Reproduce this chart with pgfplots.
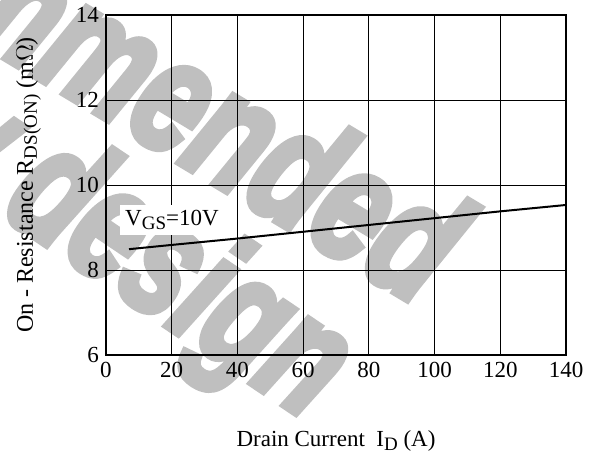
\documentclass[border=0pt]{standalone}
\usepackage{fontspec}
\setmainfont{Liberation Serif}
\newfontfamily\wmfont[FakeBold=5]{Liberation Sans}
\usepackage{pgfplots}
\pgfplotsset{compat=1.18}
\begin{document}
\begin{tikzpicture}
% watermark (behind the chart)
\node[rotate=-31, anchor=base east, text=black!25, inner sep=0pt,
      font=\wmfont\bfseries\itshape\fontsize{80}{80}\selectfont]
      at (157pt,24pt) {\scalebox{0.74}[1]{Not recommended}};
\node[rotate=-34, anchor=base east, text=black!25, inner sep=0pt,
      font=\wmfont\bfseries\itshape\fontsize{80}{80}\selectfont]
      at (101pt,-33pt) {\scalebox{0.72}[1]{for new design}};
\begin{axis}[
  at={(0,0)}, anchor=south west,
  scale only axis, width=230pt, height=170pt,
  xmin=0, xmax=140, ymin=6, ymax=14,
  xtick={0,20,...,140}, ytick={6,8,...,14},
  grid=major,
  major grid style={black, line width=0.5pt},
  axis line style={black, line width=1pt},
  tick style={draw=none},
  /pgf/number format/assume math mode=true,
  tick label style={font=\fontsize{11.5}{13}\selectfont},
  label style={font=\fontsize{11.5}{13}\selectfont},
  xlabel={Drain Current\ \ I{\fontsize{9.5}{10}\selectfont\raisebox{-0.45ex}{D}} (A)},
  ylabel={On - Resistance R{\fontsize{9.5}{10}\selectfont\raisebox{-0.45ex}{DS(ON)}} (m$\Omega$)},
  x label style={at={(axis description cs:0.5,-0.27)}, anchor=base},
  y label style={at={(axis description cs:-0.159,0.5)}, anchor=base, font=\fontsize{12}{13}\selectfont},
]
\addplot[black, line width=1pt] coordinates {
  (7,8.49) (20,8.59) (40,8.74) (60,8.90) (80,9.06) (100,9.22) (120,9.38) (140,9.53)
};
\node[fill=white, anchor=west, inner sep=2.5pt, font=\fontsize{11.5}{13}\selectfont]
  at (axis cs:4.2,9.18) {V{\fontsize{9.5}{10}\selectfont\raisebox{-0.45ex}{GS}}=10V};
\end{axis}
\pgfresetboundingbox
\useasboundingbox (-53pt,-50pt) rectangle (244pt,177.5pt);
\end{tikzpicture}
\end{document}
